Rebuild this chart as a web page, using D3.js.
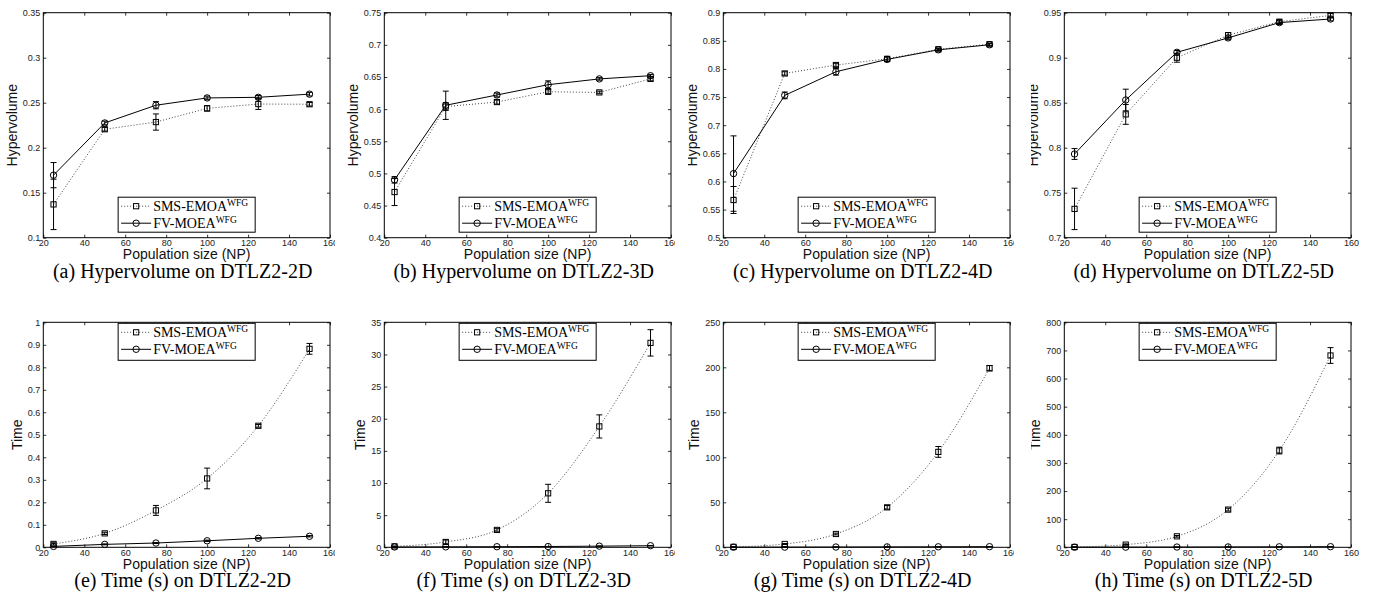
<!DOCTYPE html>
<html>
<head>
<meta charset="utf-8">
<style>
body { margin: 0; background: #fff; }
svg { display: block; }
.tick-label { font-family: "Liberation Sans", Arial, sans-serif; font-size: 9px; fill: #222; }
.axis-label { font-family: "Liberation Sans", Arial, sans-serif; font-size: 14px; fill: #111; }
.caption { font-family: "Liberation Serif", "Times New Roman", serif; font-size: 20px; fill: #000; }
.legend text { font-family: "Liberation Serif", "Times New Roman", serif; font-size: 14px; fill: #000; }
</style>
</head>
<body>
<svg width="1387" height="599"></svg>
<script src="https://d3js.org/d3.v7.min.js"></script>
<script>
// population sizes (x) and x tick labels
var np = [25, 50, 75, 100, 125, 150];
var xTicks = [20, 40, 60, 80, 100, 120, 140, 160];

// hypervolume, mean and std
var hv2dSms = [0.137, 0.2205, 0.2285, 0.2437, 0.2485, 0.2483];
var hv2dSmsSd = [0.028, 0.002, 0.009, 0.003, 0.006, 0.002];
var hv2dFv = [0.1695, 0.2275, 0.2472, 0.2553, 0.2560, 0.2595];
var hv2dFvSd = [0.014, 0.002, 0.004, 0.002, 0.002, 0.002];

var hv3dSms = [0.471, 0.604, 0.611, 0.627, 0.626, 0.647];
var hv3dSmsSd = [0.021, 0.006, 0.003, 0.003, 0.002, 0.003];
var hv3dFv = [0.490, 0.606, 0.622, 0.638, 0.647, 0.652];
var hv3dFvSd = [0.005, 0.022, 0.003, 0.006, 0.002, 0.002];

var hv4dSms = [0.567, 0.792, 0.807, 0.818, 0.835, 0.844];
var hv4dSmsSd = [0.024, 0.003, 0.003, 0.004, 0.002, 0.002];
var hv4dFv = [0.614, 0.753, 0.795, 0.817, 0.834, 0.843];
var hv4dFvSd = [0.067, 0.006, 0.006, 0.004, 0.002, 0.002];

var hv5dSms = [0.732, 0.837, 0.900, 0.925, 0.940, 0.947];
var hv5dSmsSd = [0.023, 0.011, 0.005, 0.003, 0.002, 0.002];
var hv5dFv = [0.793, 0.853, 0.906, 0.922, 0.939, 0.943];
var hv5dFvSd = [0.006, 0.012, 0.002, 0.002, 0.002, 0.002];

// run time (s), mean and std
var t2dSms = [0.015, 0.062, 0.164, 0.306, 0.540, 0.882];
var t2dSmsSd = [0.005, 0.005, 0.022, 0.046, 0.006, 0.024];
var t2dFv = [0.004, 0.013, 0.019, 0.029, 0.040, 0.049];
var t2dFvSd = [0.001, 0.002, 0.002, 0.003, 0.003, 0.003];

var t3dSms = [0.15, 0.83, 2.7, 8.4, 18.8, 31.8];
var t3dSmsSd = [0.05, 0.3, 0.2, 1.4, 1.8, 2.05];
var t3dFv = [0.05, 0.07, 0.09, 0.12, 0.18, 0.25];
var t3dFvSd = [0.01, 0.01, 0.01, 0.01, 0.02, 0.02];

var t4dSms = [0.5, 3.7, 14.8, 44.4, 106, 199];
var t4dSmsSd = [0.1, 0.5, 1.0, 2.0, 6.0, 3.0];
var t4dFv = [0.1, 0.2, 0.3, 0.45, 0.55, 0.7];
var t4dFvSd = [0.02, 0.02, 0.03, 0.03, 0.04, 0.05];

var t5dSms = [1.2, 9.5, 39, 134, 344, 682];
var t5dSmsSd = [0.3, 2, 3, 5, 12, 28];
var t5dFv = [0.3, 0.6, 0.9, 1.3, 1.7, 2.2];
var t5dFvSd = [0.05, 0.05, 0.1, 0.1, 0.1, 0.2];

// y tick labels
var hvTicks2d = [0.1, 0.15, 0.2, 0.25, 0.3, 0.35];
var hvTicks3d = [0.4, 0.45, 0.5, 0.55, 0.6, 0.65, 0.7, 0.75];
var hvTicks4d = [0.5, 0.55, 0.6, 0.65, 0.7, 0.75, 0.8, 0.85, 0.9];
var hvTicks5d = [0.7, 0.75, 0.8, 0.85, 0.9, 0.95];
var tTicks2d = [0, 0.1, 0.2, 0.3, 0.4, 0.5, 0.6, 0.7, 0.8, 0.9, 1];
var tTicks3d = [0, 5, 10, 15, 20, 25, 30, 35];
var tTicks4d = [0, 50, 100, 150, 200, 250];
var tTicks5d = [0, 100, 200, 300, 400, 500, 600, 700, 800];

var seriesNames = ["SMS-EMOA", "FV-MOEA"];
var seriesSup = "WFG";

var panels = [
  {row: 0, col: 0, sms: hv2dSms, smsSd: hv2dSmsSd, fv: hv2dFv, fvSd: hv2dFvSd, ticks: hvTicks2d, ylab: "Hypervolume", caption: "(a) Hypervolume on DTLZ2-2D"},
  {row: 0, col: 1, sms: hv3dSms, smsSd: hv3dSmsSd, fv: hv3dFv, fvSd: hv3dFvSd, ticks: hvTicks3d, ylab: "Hypervolume", caption: "(b) Hypervolume on DTLZ2-3D"},
  {row: 0, col: 2, sms: hv4dSms, smsSd: hv4dSmsSd, fv: hv4dFv, fvSd: hv4dFvSd, ticks: hvTicks4d, ylab: "Hypervolume", caption: "(c) Hypervolume on DTLZ2-4D"},
  {row: 0, col: 3, sms: hv5dSms, smsSd: hv5dSmsSd, fv: hv5dFv, fvSd: hv5dFvSd, ticks: hvTicks5d, ylab: "Hypervolume", caption: "(d) Hypervolume on DTLZ2-5D"},
  {row: 1, col: 0, sms: t2dSms, smsSd: t2dSmsSd, fv: t2dFv, fvSd: t2dFvSd, ticks: tTicks2d, ylab: "Time", caption: "(e) Time (s) on DTLZ2-2D", smooth: true},
  {row: 1, col: 1, sms: t3dSms, smsSd: t3dSmsSd, fv: t3dFv, fvSd: t3dFvSd, ticks: tTicks3d, ylab: "Time", caption: "(f) Time (s) on DTLZ2-3D", smooth: true},
  {row: 1, col: 2, sms: t4dSms, smsSd: t4dSmsSd, fv: t4dFv, fvSd: t4dFvSd, ticks: tTicks4d, ylab: "Time", caption: "(g) Time (s) on DTLZ2-4D", smooth: true},
  {row: 1, col: 3, sms: t5dSms, smsSd: t5dSmsSd, fv: t5dFv, fvSd: t5dFvSd, ticks: tTicks5d, ylab: "Time", caption: "(h) Time (s) on DTLZ2-5D", smooth: true}
];

// layout
var colLeft = [43.3, 384.3, 723.3, 1064.3];
var rowTop = [12.7, 322.3];
var plotW = 286.7, plotH = 225;
var clipX = [[0, 335], [340, 675], [688, 1014], [1031, 1387]];

var svg = d3.select("svg");
var fmt = d3.format("~g");

panels.forEach(function(p, i) {
  var left = colLeft[p.col], top = rowTop[p.row];

  svg.append("clipPath").attr("id", "clip" + i)
    .append("rect")
      .attr("x", clipX[p.col][0]).attr("y", 0)
      .attr("width", clipX[p.col][1] - clipX[p.col][0]).attr("height", 599);

  var outer = svg.append("g").attr("clip-path", "url(#clip" + i + ")");
  var g = outer.append("g").attr("transform", "translate(" + left + "," + top + ")");

  var x = d3.scaleLinear().domain([20, 160]).range([0, plotW]);
  var y = d3.scaleLinear().domain([p.ticks[0], p.ticks[p.ticks.length - 1]]).range([plotH, 0]);

  // axes, ticks pointing inward on all sides
  g.append("g").attr("transform", "translate(0," + plotH + ")")
    .call(d3.axisBottom(x).tickValues(xTicks).tickSize(-3).tickPadding(2).tickFormat(fmt));
  g.append("g").call(d3.axisTop(x).tickValues(xTicks).tickSize(-3).tickFormat(""));
  var ya = g.append("g")
    .call(d3.axisLeft(y).tickValues(p.ticks).tickSize(-3).tickPadding(3).tickFormat(fmt));
  g.append("g").attr("transform", "translate(" + plotW + ",0)")
    .call(d3.axisRight(y).tickValues(p.ticks).tickSize(-3).tickFormat(""));

  g.selectAll(".domain").remove();
  g.selectAll(".tick line").attr("stroke", "#000").attr("stroke-width", 0.8);
  g.selectAll(".tick text").attr("class", "tick-label").attr("font-size", null).attr("font-family", null).attr("fill", null);
  g.selectAll("g").attr("font-size", null).attr("font-family", null);

  g.append("rect")
    .attr("width", plotW).attr("height", plotH)
    .attr("fill", "none").attr("stroke", "#000").attr("stroke-width", 1);

  // lines
  var smsPts = np.map(function(n, k) { return {x: n, v: p.sms[k], sd: p.smsSd[k]}; });
  var fvPts = np.map(function(n, k) { return {x: n, v: p.fv[k], sd: p.fvSd[k]}; });

  var line = d3.line().x(function(d) { return x(d.x); }).y(function(d) { return y(d.v); });
  var smoothLine = d3.line().curve(d3.curveMonotoneX)
    .x(function(d) { return x(d.x); }).y(function(d) { return y(d.v); });

  g.append("path").datum(smsPts)
    .attr("d", p.smooth ? smoothLine : line)
    .attr("fill", "none").attr("stroke", "#444").attr("stroke-width", 1)
    .attr("stroke-dasharray", "1,2");
  g.append("path").datum(fvPts)
    .attr("d", line)
    .attr("fill", "none").attr("stroke", "#000").attr("stroke-width", 1);

  // error bars
  [smsPts, fvPts].forEach(function(pts) {
    var eb = g.append("g").attr("stroke", "#000").attr("stroke-width", 1).attr("fill", "none");
    pts.forEach(function(d) {
      var cx = x(d.x), y1 = y(d.v - d.sd), y2 = y(d.v + d.sd);
      eb.append("path")
        .attr("d", "M" + cx + "," + y1 + "V" + y2 +
                   "M" + (cx - 3) + "," + y1 + "H" + (cx + 3) +
                   "M" + (cx - 3) + "," + y2 + "H" + (cx + 3));
    });
  });

  // markers
  g.append("g").selectAll("rect").data(smsPts).enter().append("rect")
    .attr("x", function(d) { return x(d.x) - 2.6; })
    .attr("y", function(d) { return y(d.v) - 2.6; })
    .attr("width", 5.2).attr("height", 5.2)
    .attr("fill", "none").attr("stroke", "#000").attr("stroke-width", 1);
  g.append("g").selectAll("circle").data(fvPts).enter().append("circle")
    .attr("cx", function(d) { return x(d.x); })
    .attr("cy", function(d) { return y(d.v); })
    .attr("r", 3.2)
    .attr("fill", "none").attr("stroke", "#000").attr("stroke-width", 1);

  // y label placed left of the widest tick label
  var maxW = 0;
  ya.selectAll("text").each(function() { maxW = Math.max(maxW, this.getComputedTextLength()); });
  var lx = -3 - maxW - 11;
  g.append("text").attr("class", "axis-label")
    .attr("transform", "translate(" + lx + "," + (plotH / 2) + ") rotate(-90)")
    .attr("text-anchor", "middle").attr("dy", "0.35em")
    .text(p.ylab);

  g.append("text").attr("class", "axis-label")
    .attr("x", plotW / 2).attr("y", plotH + 21.5)
    .attr("text-anchor", "middle")
    .text("Population size (NP)");

  g.append("text").attr("class", "caption")
    .attr("x", plotW / 2 - 4).attr("y", plotH + 40)
    .attr("text-anchor", "middle")
    .text(p.caption);

  // legend
  var lg = g.append("g").attr("class", "legend");
  var box = lg.append("rect").attr("fill", "#fff").attr("stroke", "#000").attr("stroke-width", 1);
  var rows = [9, 26];
  var texts = [];
  seriesNames.forEach(function(name, k) {
    var t = lg.append("text").attr("x", 35).attr("y", rows[k]).attr("dy", "0.35em");
    t.append("tspan").text(name);
    t.append("tspan").attr("font-size", "9.5px").attr("dy", "-5").text(seriesSup);
    texts.push(t);
    lg.append("line")
      .attr("x1", 3).attr("x2", 33).attr("y1", rows[k]).attr("y2", rows[k])
      .attr("stroke", k === 0 ? "#444" : "#000").attr("stroke-width", 1)
      .attr("stroke-dasharray", k === 0 ? "1,2" : null);
  });
  lg.append("rect").attr("x", 18 - 2.6).attr("y", rows[0] - 2.6).attr("width", 5.2).attr("height", 5.2)
    .attr("fill", "none").attr("stroke", "#000");
  lg.append("circle").attr("cx", 18).attr("cy", rows[1]).attr("r", 3.2)
    .attr("fill", "none").attr("stroke", "#000");

  var tw = d3.max(texts, function(t) { return t.node().getComputedTextLength(); });
  var bw = 35 + tw + 7, bh = p.row === 0 ? 35 : 37;
  box.attr("width", bw).attr("height", bh);
  var ly = p.row === 0 ? plotH - 5.5 - bh : 1;
  lg.attr("transform", "translate(" + (plotW / 2 - bw / 2) + "," + ly + ")");
});
</script>
</body>
</html>
